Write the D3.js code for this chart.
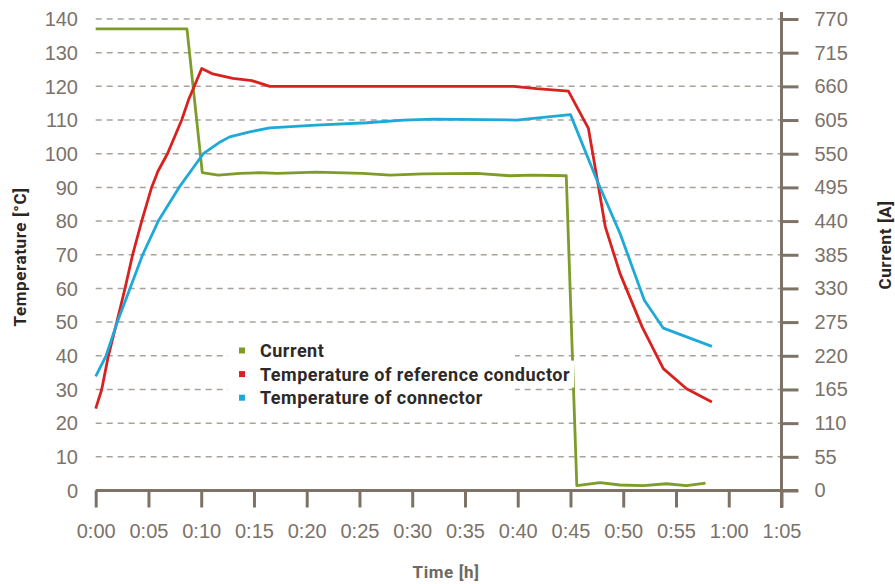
<!DOCTYPE html>
<html>
<head>
<meta charset="utf-8">
<script src="https://cdn.jsdelivr.net/npm/d3@7"></script>
<style>
  body { margin: 0; background: #fff; }
  svg { display: block; }
  .tick-label { font-family: "Liberation Sans", Arial, sans-serif; font-size: 20px; fill: #7b726a; }
  .title { font-family: Roboto, "Open Sans", sans-serif; font-weight: 700; font-size: 17px; letter-spacing: 0.6px; }
  .legend text { font-family: Roboto, "Open Sans", sans-serif; font-weight: 700; font-size: 18px; letter-spacing: 0.5px; fill: #2d2926; }
</style>
</head>
<body>
<div id="io"></div>
<script>
// minutes since start
const timeTicks = [0, 5, 10, 15, 20, 25, 30, 35, 40, 45, 50, 55, 60, 65];
const tempTicks = [0, 10, 20, 30, 40, 50, 60, 70, 80, 90, 100, 110, 120, 130, 140];
const currentTicks = [0, 55, 110, 165, 220, 275, 330, 385, 440, 495, 550, 605, 660, 715, 770];

const currentTime = [0, 8.65, 10.1, 11.6, 13.7, 15.5, 17.2, 20.9, 25.3, 27.9, 31.0, 36.1, 39.3, 41.2, 44.6, 45.6, 47.8, 49.7, 51.9, 54.1, 56.0, 57.8];
const currentAmps = [754, 754, 519, 515, 518, 519, 518, 520, 518, 515, 517, 518, 514, 515, 514, 8, 13, 9, 8, 11, 8, 12];

const refTime = [0, 0.57, 1.2, 2.0, 2.78, 3.5, 4.36, 5.3, 5.9, 6.8, 8.15, 8.8, 10.05, 11.1, 13.0, 14.8, 16.5, 39.6, 41.8, 44.8, 46.7, 47.6, 48.3, 49.7, 51.8, 53.8, 56.0, 58.4];
const refTemp = [24.3, 30, 40, 50, 60, 70, 80, 90, 94.8, 100, 110, 116, 125.3, 123.7, 122.4, 121.7, 120, 120, 119.3, 118.6, 107.5, 91.2, 78.3, 64.4, 48.5, 36.2, 30.2, 26.3];

const connTime = [0, 0.98, 2.05, 3.25, 4.45, 5.93, 7.9, 10.2, 11.8, 12.7, 14.6, 16.5, 20.9, 25.7, 29.2, 32, 39.9, 42.4, 45, 47.5, 49.7, 52.0, 53.8, 58.4];
const connTemp = [33.9, 40, 50, 60, 70, 80, 90, 100, 103.5, 105, 106.5, 107.7, 108.5, 109.2, 110, 110.3, 110, 110.8, 111.6, 92.2, 76.3, 56.5, 48.2, 42.8];

const legendNames = ['Current', 'Temperature of reference conductor', 'Temperature of connector'];
const colors = ['#7d9c2a', '#d8221f', '#1fa9d8'];

const W = 895, H = 584;
const axisColor = '#7d7266';

const svg = d3.select('#io').append('svg').attr('width', W).attr('height', H);

const x = d3.scaleLinear().domain([0, 65]).range([95.7, 781.5]);
const yT = d3.scaleLinear().domain([0, 140]).range([490.5, 19]);
const yA = d3.scaleLinear().domain([0, 770]).range([490.5, 19]);

// grid
svg.append('g').selectAll('line')
  .data(tempTicks.filter(d => d > 0))
  .enter().append('line')
  .attr('x1', x(0)).attr('x2', x(65))
  .attr('y1', d => yT(d)).attr('y2', d => yT(d))
  .attr('stroke', '#a8a29b').attr('stroke-width', 1.5)
  .attr('stroke-dasharray', '6,5');

// left labels (no axis line)
svg.append('g').selectAll('text')
  .data(tempTicks).enter().append('text')
  .attr('class', 'tick-label')
  .attr('x', 78).attr('y', d => yT(d))
  .attr('dy', '0.36em').attr('text-anchor', 'end')
  .text(d => d);

// bottom axis
const fmt = m => Math.floor(m / 60) + ':' + String(m % 60).padStart(2, '0');
const xAxis = svg.append('g').attr('transform', `translate(0,${yT(0)})`)
  .call(d3.axisBottom(x).tickValues(timeTicks).tickFormat(fmt).tickSize(17).tickPadding(11).tickSizeOuter(0));
xAxis.select('.domain').attr('d', `M${x(0)},0H798`);

// right axis
const yAxis = svg.append('g').attr('transform', `translate(${x(65)},0)`)
  .call(d3.axisRight(yA).tickValues(currentTicks).tickSize(17).tickPadding(16).tickSizeOuter(0));
yAxis.select('.domain').attr('d', `M0,12V508`);

[xAxis, yAxis].forEach(g => {
  g.selectAll('.domain, .tick line').attr('stroke', axisColor).attr('stroke-width', 3);
  g.selectAll('.tick text').attr('class', 'tick-label').attr('font-size', null).attr('font-family', null).attr('fill', null);
});
xAxis.selectAll('.tick text').attr('dy', '0.95em');

// lines
const lineT = d3.line().x(d => x(d[0])).y(d => yT(d[1]));
const lineA = d3.line().x(d => x(d[0])).y(d => yA(d[1]));

const series = [
  { path: lineA(currentTime.map((t, i) => [t, currentAmps[i]])), color: colors[0] },
  { path: lineT(refTime.map((t, i) => [t, refTemp[i]])), color: colors[1] },
  { path: lineT(connTime.map((t, i) => [t, connTemp[i]])), color: colors[2] }
];
svg.append('g').selectAll('path').data(series).enter().append('path')
  .attr('d', d => d.path).attr('fill', 'none')
  .attr('stroke', d => d.color).attr('stroke-width', 2.8)
  .attr('stroke-linejoin', 'round');

// legend
const legend = svg.append('g').attr('class', 'legend');
legend.append('rect').attr('x', 228).attr('y', 336).attr('width', 287).attr('height', 74).attr('fill', '#fff');
const items = legend.selectAll('g.item').data(legendNames).enter().append('g')
  .attr('class', 'item')
  .attr('transform', (d, i) => `translate(0,${350.5 + i * 23.6})`);
items.append('text').attr('x', 260).attr('dy', '0.36em').text(d => d);
items.each(function () {
  const g = d3.select(this);
  const b = g.select('text').node().getBBox();
  g.insert('rect', 'text').attr('x', b.x - 4).attr('y', b.y - 3)
    .attr('width', b.width + 8).attr('height', b.height + 6).attr('fill', '#fff');
});
items.append('rect').attr('x', 239).attr('y', -3).attr('width', 6).attr('height', 6)
  .attr('fill', (d, i) => colors[i]);

// titles
svg.append('text').attr('class', 'title').attr('fill', '#2a2522')
  .attr('transform', 'translate(20,257) rotate(-90)').attr('text-anchor', 'middle').attr('dy', '0.36em')
  .text('Temperature [°C]');
svg.append('text').attr('class', 'title').attr('fill', '#2a2522')
  .attr('transform', 'translate(885,245) rotate(-90)').attr('text-anchor', 'middle').attr('dy', '0.36em')
  .text('Current [A]');
svg.append('text').attr('class', 'title').attr('fill', '#6e6862')
  .attr('x', 446).attr('y', 572).attr('text-anchor', 'middle').attr('dy', '0.36em')
  .text('Time [h]');
</script>
</body>
</html>
